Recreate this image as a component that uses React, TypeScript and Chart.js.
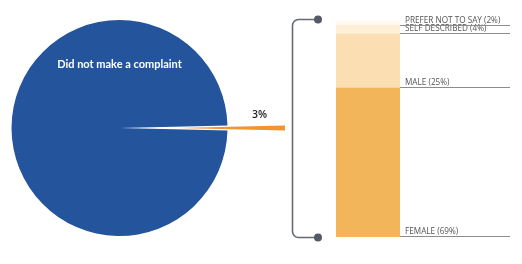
import React, { useEffect, useRef } from 'react';
import { Chart, registerables } from 'chart.js';

Chart.register(...registerables);

// ---- data ----
const pieLabels = ['Made a complaint', 'Did not make a complaint'];
const pieShares = [0.75, 99.25]; // drawn angular shares
const pieValueLabel = '3%';
const pieMainLabel = 'Did not make a complaint';

const genderLabels = ['FEMALE', 'MALE', 'SELF DESCRIBED', 'PREFER NOT TO SAY'];
const genderValues = [69, 25, 4, 2];

// ---- styles ----
const BLUE = '#23549c';
const ORANGE = '#f0952f';
const genderColors = ['#f2b55a', '#fbdfb2', '#fdf0d6', '#fef8ee'];
const W = 522;
const H = 264;
const PIE_RADIUS = 108;

const pieTextPlugin = {
  id: 'pieText',
  afterDraw(chart: any) {
    const ctx = chart.ctx;
    const meta = chart.getDatasetMeta(0);
    const el = meta.data[1];
    ctx.save();
    ctx.fillStyle = '#ffffff';
    ctx.font = 'bold 11px Lato';
    ctx.textAlign = 'center';
    ctx.textBaseline = 'middle';
    ctx.fillText(pieMainLabel, el.x, el.y - 64);
    ctx.fillStyle = '#222222';
    ctx.font = '600 10.5px "Open Sans"';
    ctx.fillText(pieValueLabel, 259.5, 115);
    ctx.restore();
  },
};

const barLabelPlugin = {
  id: 'barLabels',
  afterDraw(chart: any) {
    const ctx = chart.ctx;
    const area = chart.chartArea;
    ctx.save();
    // labels & leader lines
    chart.data.datasets.forEach((ds: any, i: number) => {
      const el: any = chart.getDatasetMeta(i).data[0];
      const bottom = Math.round(Math.max(el.y, el.base) - 0.6) + 0.5;
      ctx.strokeStyle = '#8c8c8c';
      ctx.lineWidth = 1;
      ctx.beginPath();
      ctx.moveTo(area.right, bottom);
      ctx.lineTo(510, bottom);
      ctx.stroke();
      ctx.fillStyle = '#555555';
      ctx.font = '8.2px "Open Sans"';
      ctx.textAlign = 'left';
      ctx.textBaseline = 'alphabetic';
      ctx.fillText(`${genderLabels[i]} (${genderValues[i]}%)`, area.right + 5, bottom - 2.2);
    });
    // bracket
    const top = area.top - 1.5;
    const bot = area.bottom + 0.5;
    const xL = 292.5;
    const xDot = 318;
    const r = 6;
    ctx.strokeStyle = '#666a72';
    ctx.lineWidth = 1.6;
    ctx.beginPath();
    ctx.moveTo(xDot, top);
    ctx.lineTo(xL + r, top);
    ctx.arcTo(xL, top, xL, top + r, r);
    ctx.lineTo(xL, bot - r);
    ctx.arcTo(xL, bot, xL + r, bot, r);
    ctx.lineTo(xDot, bot);
    ctx.stroke();
    ctx.fillStyle = '#555b66';
    [top, bot].forEach((y) => {
      ctx.beginPath();
      ctx.arc(xDot, y, 4, 0, Math.PI * 2);
      ctx.fill();
    });
    ctx.restore();
  },
};

export default function App() {
  const aRef = useRef<HTMLCanvasElement>(null);
  const bRef = useRef<HTMLCanvasElement>(null);
  const cRef = useRef<HTMLCanvasElement>(null);

  useEffect(() => {
    const total = pieShares.reduce((s, v) => s + v, 0);
    const orangeDeg = (pieShares[0] / total) * 360;
    const rotation = 90 - orangeDeg / 2;
    const common = {
      responsive: false,
      animation: false as const,
      rotation,
      radius: PIE_RADIUS,
      plugins: { legend: { display: false }, tooltip: { enabled: false } },
    };
    const pieA = new Chart(aRef.current!, {
      type: 'pie',
      data: {
        labels: pieLabels,
        datasets: [{ data: pieShares, backgroundColor: ['rgba(0,0,0,0)', BLUE], borderWidth: 0, clip: false } as any],
      },
      options: { ...common, layout: { padding: { left: 0, top: 0, right: 283, bottom: 8 } } } as any,
      plugins: [pieTextPlugin],
    });
    const pieB = new Chart(bRef.current!, {
      type: 'pie',
      data: {
        labels: pieLabels,
        datasets: [{ data: pieShares, backgroundColor: [ORANGE, 'rgba(0,0,0,0)'], borderWidth: 0, clip: false } as any],
      },
      options: { ...common, layout: { padding: { left: 0, top: 0, right: 168, bottom: 8 } } } as any,
    });
    const bar = new Chart(cRef.current!, {
      type: 'bar',
      data: {
        labels: ['Gender'],
        datasets: genderLabels.map((l, i) => ({
          label: l,
          data: [genderValues[i]],
          backgroundColor: genderColors[i],
          borderWidth: 0,
          barPercentage: 1,
          categoryPercentage: 1,
        })),
      },
      options: {
        responsive: false,
        animation: false,
        layout: { padding: { left: 336, right: 122, top: 21, bottom: 27 } },
        scales: {
          x: { display: false, stacked: true },
          y: { display: false, stacked: true, min: 0, max: 100 },
        },
        plugins: { legend: { display: false }, tooltip: { enabled: false } },
      } as any,
      plugins: [barLabelPlugin],
    });
    return () => {
      pieA.destroy();
      pieB.destroy();
      bar.destroy();
    };
  }, []);

  const cs: React.CSSProperties = { position: 'absolute', left: 0, top: 0, width: W, height: H };
  return (
    <div style={{ position: 'fixed', left: 0, top: 0, width: W, height: H, background: '#fff' }}>
      <canvas ref={aRef} width={W} height={H} style={cs} />
      <canvas ref={bRef} width={W} height={H} style={cs} />
      <canvas ref={cRef} width={W} height={H} style={cs} />
    </div>
  );
}
